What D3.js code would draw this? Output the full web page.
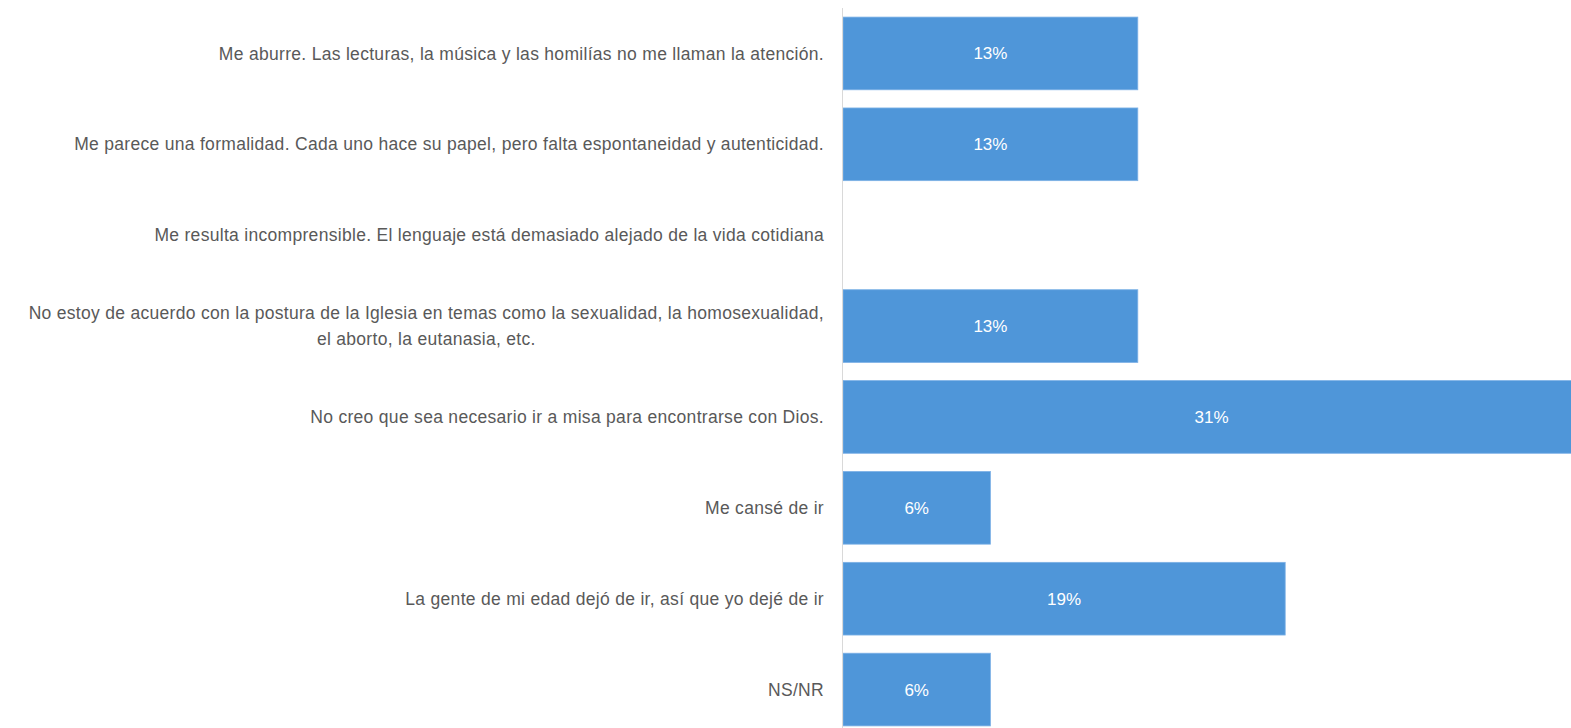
<!DOCTYPE html>
<html>
<head>
<meta charset="utf-8">
<script src="https://cdn.jsdelivr.net/npm/d3@7"></script>
<style>
  body { margin: 0; background: #fff; overflow: hidden; }
  svg { display: block; }
</style>
</head>
<body>
<div id="chart"></div>
<script>
// categories (top to bottom), one entry per line of the label
var categories = [
    ["Me aburre. Las lecturas, la música y las homilías no me llaman la atención."],
    ["Me parece una formalidad. Cada uno hace su papel, pero falta espontaneidad y autenticidad."],
    ["Me resulta incomprensible. El lenguaje está demasiado alejado de la vida cotidiana"],
    ["No estoy de acuerdo con la postura de la Iglesia en temas como la sexualidad, la homosexualidad,",
     "el aborto, la eutanasia, etc."],
    ["No creo que sea necesario ir a misa para encontrarse con Dios."],
    ["Me cansé de ir"],
    ["La gente de mi edad dejó de ir, así que yo dejé de ir"],
    ["NS/NR"]
];
// share of answers, in percent
var values = [12.5, 12.5, 0, 12.5, 31.25, 6.25, 18.75, 6.25];

var width = 1571, height = 728;
var axisX = 843;

var svg = d3.select("#chart").append("svg")
    .attr("width", width)
    .attr("height", height);

var ids = d3.range(categories.length);

var y = d3.scaleBand()
    .domain(ids)
    .range([8, 735])
    .paddingInner(0.2)
    .paddingOuter(0.1);

// plot area runs past the right edge of the picture, so the longest bar is cut off
var x = d3.scaleLinear()
    .domain([0, d3.max(values)])
    .range([axisX, 1580]);

// bars
svg.selectAll(".bar")
    .data(ids)
    .enter().append("rect")
    .attr("class", "bar")
    .attr("x", x(0))
    .attr("y", function(i){ return y(i); })
    .attr("width", function(i){ return x(values[i]) - x(0); })
    .attr("height", y.bandwidth())
    .attr("fill", "#4f96d9")
    .attr("stroke", "#7db1e6")
    .attr("stroke-width", 0.8);

// value labels
svg.selectAll(".val")
    .data(ids.filter(function(i){ return values[i] > 0; }))
    .enter().append("text")
    .attr("class", "val")
    .attr("x", function(i){ return (x(0) + x(values[i])) / 2; })
    .attr("y", function(i){ return y(i) + y.bandwidth() / 2; })
    .attr("dy", "0.35em")
    .attr("text-anchor", "middle")
    .attr("font-family", "Liberation Sans, Arial, sans-serif")
    .attr("font-size", "17px")
    .attr("fill", "#ffffff")
    .text(function(i){ return Math.round(values[i]) + "%"; });

// vertical axis line
svg.append("line")
    .attr("x1", axisX - 0.5).attr("x2", axisX - 0.5)
    .attr("y1", 8).attr("y2", height)
    .attr("stroke", "#d9d9d9")
    .attr("stroke-width", 1);

// category labels, right aligned; wrapped lines centred on each other
var labelRight = 824, lineH = 26;
ids.forEach(function(i){
    var lines = categories[i];
    var g = svg.append("g").attr("class", "cat");
    var texts = lines.map(function(l, k){
        return g.append("text")
            .attr("y", y(i) + y.bandwidth() / 2 + (k - (lines.length - 1) / 2) * lineH)
            .attr("dy", "0.35em")
            .attr("font-family", "Liberation Sans, Arial, sans-serif")
            .attr("font-size", "17.5px")
            .attr("letter-spacing", "0.3px")
            .attr("fill", "#595959")
            .text(l);
    });
    if (lines.length == 1) {
        texts[0].attr("x", labelRight).attr("text-anchor", "end");
    } else {
        var w = d3.max(texts, function(t){ return t.node().getComputedTextLength(); });
        texts.forEach(function(t){
            t.attr("x", labelRight - w / 2).attr("text-anchor", "middle");
        });
    }
});
</script>
</body>
</html>
